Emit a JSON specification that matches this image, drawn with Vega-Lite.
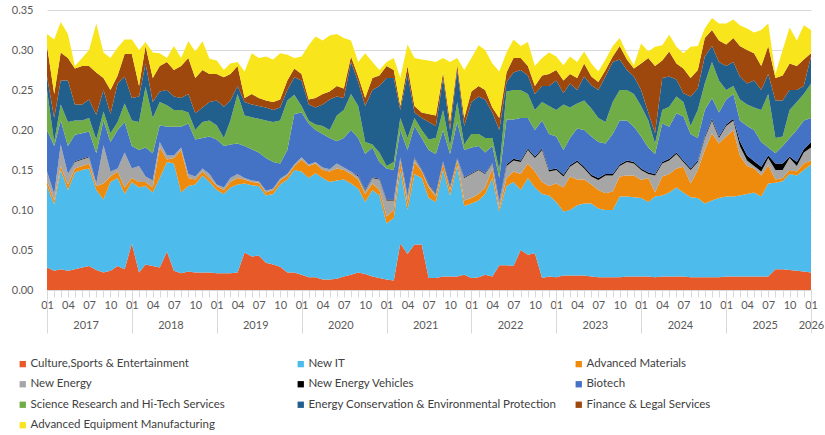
{
  "$schema": "https://vega.github.io/schema/vega-lite/v6.json",
  "width": 764,
  "height": 280,
  "autosize": "none",
  "padding": {"left": 47, "top": 10, "right": 14, "bottom": 145},
  "config": {
    "font": "Lato",
    "view": {"stroke": null},
    "axis": {"labelFont": "Lato", "labelColor": "#595959", "labelFontSize": 11, "title": null}
  },
  "datasets": {
    "series": [
      {"key": "cse", "series": "Culture,Sports & Entertainment", "rank": 1},
      {"key": "nit", "series": "New IT", "rank": 2},
      {"key": "am", "series": "Advanced Materials", "rank": 3},
      {"key": "ne", "series": "New Energy", "rank": 4},
      {"key": "nev", "series": "New Energy Vehicles", "rank": 5},
      {"key": "bio", "series": "Biotech", "rank": 6},
      {"key": "sci", "series": "Science Research and Hi-Tech Services", "rank": 7},
      {"key": "ece", "series": "Energy Conservation & Environmental Protection", "rank": 8},
      {"key": "fin", "series": "Finance & Legal Services", "rank": 9},
      {"key": "aem", "series": "Advanced Equipment Manufacturing", "rank": 10}
    ],
    "shares": [
      {"date": "2017-01", "cse": 0.028, "nit": 0.102, "am": 0.006, "ne": 0.012, "nev": 0, "bio": 0.052, "sci": 0.050, "ece": 0.017, "fin": 0.038, "aem": 0.015},
      {"date": "2017-02", "cse": 0.024, "nit": 0.083, "am": 0.005, "ne": 0.008, "nev": 0, "bio": 0.060, "sci": 0.005, "ece": 0.030, "fin": 0.030, "aem": 0.068},
      {"date": "2017-03", "cse": 0.026, "nit": 0.124, "am": 0.005, "ne": 0.027, "nev": 0, "bio": 0.030, "sci": 0.020, "ece": 0.030, "fin": 0.035, "aem": 0.038},
      {"date": "2017-04", "cse": 0.024, "nit": 0.101, "am": 0.007, "ne": 0.013, "nev": 0, "bio": 0.035, "sci": 0.030, "ece": 0.052, "fin": 0.028, "aem": 0.030},
      {"date": "2017-05", "cse": 0.026, "nit": 0.121, "am": 0.005, "ne": 0.008, "nev": 0.001, "bio": 0.033, "sci": 0.018, "ece": 0.020, "fin": 0.045, "aem": 0.003},
      {"date": "2017-06", "cse": 0.028, "nit": 0.122, "am": 0.005, "ne": 0.008, "nev": 0.001, "bio": 0.032, "sci": 0.016, "ece": 0.020, "fin": 0.048, "aem": 0.010},
      {"date": "2017-07", "cse": 0.030, "nit": 0.122, "am": 0.006, "ne": 0.008, "nev": 0.001, "bio": 0.031, "sci": 0.017, "ece": 0.023, "fin": 0.042, "aem": 0.020},
      {"date": "2017-08", "cse": 0.025, "nit": 0.100, "am": 0.005, "ne": 0.003, "nev": 0, "bio": 0.038, "sci": 0.017, "ece": 0.031, "fin": 0.053, "aem": 0.061},
      {"date": "2017-09", "cse": 0.022, "nit": 0.091, "am": 0.020, "ne": 0.048, "nev": 0, "bio": 0.031, "sci": 0.011, "ece": 0.027, "fin": 0.015, "aem": 0.032},
      {"date": "2017-10", "cse": 0.024, "nit": 0.111, "am": 0.007, "ne": 0.006, "nev": 0, "bio": 0.037, "sci": 0.011, "ece": 0.024, "fin": 0.030, "aem": 0.040},
      {"date": "2017-11", "cse": 0.030, "nit": 0.110, "am": 0.008, "ne": 0.004, "nev": 0, "bio": 0.048, "sci": 0.010, "ece": 0.048, "fin": 0.010, "aem": 0.035},
      {"date": "2017-12", "cse": 0.026, "nit": 0.094, "am": 0.008, "ne": 0.044, "nev": 0, "bio": 0.038, "sci": 0.023, "ece": 0.034, "fin": 0.028, "aem": 0.018},
      {"date": "2018-01", "cse": 0.058, "nit": 0.077, "am": 0.005, "ne": 0.012, "nev": 0, "bio": 0.028, "sci": 0.032, "ece": 0.028, "fin": 0.055, "aem": 0.018},
      {"date": "2018-02", "cse": 0.022, "nit": 0.106, "am": 0.007, "ne": 0.020, "nev": 0, "bio": 0.020, "sci": 0.035, "ece": 0.032, "fin": 0.013, "aem": 0.045},
      {"date": "2018-03", "cse": 0.032, "nit": 0.098, "am": 0.005, "ne": 0.007, "nev": 0, "bio": 0.036, "sci": 0.076, "ece": 0.029, "fin": 0.022, "aem": 0.005},
      {"date": "2018-04", "cse": 0.030, "nit": 0.092, "am": 0.006, "ne": 0.009, "nev": 0, "bio": 0.034, "sci": 0.044, "ece": 0.020, "fin": 0.030, "aem": 0.032},
      {"date": "2018-05", "cse": 0.028, "nit": 0.112, "am": 0.038, "ne": 0.007, "nev": 0, "bio": 0.021, "sci": 0.029, "ece": 0.013, "fin": 0.032, "aem": 0.016},
      {"date": "2018-06", "cse": 0.048, "nit": 0.112, "am": 0.003, "ne": 0.005, "nev": 0, "bio": 0.036, "sci": 0.027, "ece": 0.019, "fin": 0.035, "aem": 0.005},
      {"date": "2018-07", "cse": 0.024, "nit": 0.134, "am": 0.007, "ne": 0.003, "nev": 0, "bio": 0.036, "sci": 0.021, "ece": 0.017, "fin": 0.033, "aem": 0.030},
      {"date": "2018-08", "cse": 0.021, "nit": 0.101, "am": 0.053, "ne": 0.003, "nev": 0, "bio": 0.026, "sci": 0.021, "ece": 0.015, "fin": 0.040, "aem": 0.010},
      {"date": "2018-09", "cse": 0.023, "nit": 0.107, "am": 0.010, "ne": 0.005, "nev": 0, "bio": 0.063, "sci": 0.014, "ece": 0.023, "fin": 0.045, "aem": 0.021},
      {"date": "2018-10", "cse": 0.022, "nit": 0.110, "am": 0.006, "ne": 0.004, "nev": 0, "bio": 0.046, "sci": 0.012, "ece": 0.021, "fin": 0.044, "aem": 0.033},
      {"date": "2018-11", "cse": 0.022, "nit": 0.121, "am": 0.005, "ne": 0.004, "nev": 0, "bio": 0.038, "sci": 0.020, "ece": 0.018, "fin": 0.047, "aem": 0.036},
      {"date": "2018-12", "cse": 0.022, "nit": 0.113, "am": 0.005, "ne": 0.005, "nev": 0, "bio": 0.047, "sci": 0.020, "ece": 0.023, "fin": 0.035, "aem": 0.019},
      {"date": "2019-01", "cse": 0.021, "nit": 0.104, "am": 0.005, "ne": 0.002, "nev": 0, "bio": 0.056, "sci": 0.018, "ece": 0.031, "fin": 0.033, "aem": 0.017},
      {"date": "2019-02", "cse": 0.021, "nit": 0.099, "am": 0.005, "ne": 0.003, "nev": 0, "bio": 0.052, "sci": 0.010, "ece": 0.039, "fin": 0.037, "aem": 0.009},
      {"date": "2019-03", "cse": 0.021, "nit": 0.107, "am": 0.007, "ne": 0.005, "nev": 0, "bio": 0.042, "sci": 0.030, "ece": 0.025, "fin": 0.033, "aem": 0.013},
      {"date": "2019-04", "cse": 0.022, "nit": 0.110, "am": 0.008, "ne": 0.005, "nev": 0, "bio": 0.038, "sci": 0.062, "ece": 0.010, "fin": 0.025, "aem": 0.005},
      {"date": "2019-05", "cse": 0.047, "nit": 0.086, "am": 0.005, "ne": 0.002, "nev": 0, "bio": 0.040, "sci": 0.038, "ece": 0.017, "fin": 0.005, "aem": 0.033},
      {"date": "2019-06", "cse": 0.042, "nit": 0.089, "am": 0.004, "ne": 0.002, "nev": 0, "bio": 0.039, "sci": 0.040, "ece": 0.016, "fin": 0.013, "aem": 0.051},
      {"date": "2019-07", "cse": 0.043, "nit": 0.087, "am": 0.004, "ne": 0.002, "nev": 0, "bio": 0.036, "sci": 0.042, "ece": 0.016, "fin": 0.010, "aem": 0.050},
      {"date": "2019-08", "cse": 0.034, "nit": 0.084, "am": 0.004, "ne": 0.002, "nev": 0, "bio": 0.041, "sci": 0.047, "ece": 0.016, "fin": 0.009, "aem": 0.055},
      {"date": "2019-09", "cse": 0.032, "nit": 0.088, "am": 0.005, "ne": 0.002, "nev": 0, "bio": 0.033, "sci": 0.050, "ece": 0.015, "fin": 0.010, "aem": 0.053},
      {"date": "2019-10", "cse": 0.029, "nit": 0.103, "am": 0.005, "ne": 0.002, "nev": 0, "bio": 0.019, "sci": 0.054, "ece": 0.016, "fin": 0.010, "aem": 0.058},
      {"date": "2019-11", "cse": 0.022, "nit": 0.116, "am": 0.005, "ne": 0.002, "nev": 0, "bio": 0.030, "sci": 0.062, "ece": 0.013, "fin": 0.012, "aem": 0.032},
      {"date": "2019-12", "cse": 0.022, "nit": 0.128, "am": 0.005, "ne": 0.002, "nev": 0, "bio": 0.063, "sci": 0.024, "ece": 0.022, "fin": 0.011, "aem": 0.013},
      {"date": "2020-01", "cse": 0.019, "nit": 0.129, "am": 0.015, "ne": 0.003, "nev": 0, "bio": 0.056, "sci": 0.008, "ece": 0.032, "fin": 0.008, "aem": 0.022},
      {"date": "2020-02", "cse": 0.016, "nit": 0.124, "am": 0.015, "ne": 0.002, "nev": 0, "bio": 0.051, "sci": 0.004, "ece": 0.020, "fin": 0.006, "aem": 0.068},
      {"date": "2020-03", "cse": 0.016, "nit": 0.130, "am": 0.012, "ne": 0.002, "nev": 0, "bio": 0.040, "sci": 0.007, "ece": 0.021, "fin": 0.012, "aem": 0.077},
      {"date": "2020-04", "cse": 0.013, "nit": 0.127, "am": 0.010, "ne": 0.003, "nev": 0, "bio": 0.042, "sci": 0.010, "ece": 0.027, "fin": 0.013, "aem": 0.067},
      {"date": "2020-05", "cse": 0.013, "nit": 0.122, "am": 0.013, "ne": 0.003, "nev": 0, "bio": 0.039, "sci": 0.010, "ece": 0.038, "fin": 0.010, "aem": 0.070},
      {"date": "2020-06", "cse": 0.014, "nit": 0.123, "am": 0.015, "ne": 0.006, "nev": 0, "bio": 0.028, "sci": 0.032, "ece": 0.024, "fin": 0.013, "aem": 0.065},
      {"date": "2020-07", "cse": 0.017, "nit": 0.121, "am": 0.012, "ne": 0.003, "nev": 0, "bio": 0.037, "sci": 0.035, "ece": 0.015, "fin": 0.012, "aem": 0.063},
      {"date": "2020-08", "cse": 0.019, "nit": 0.114, "am": 0.012, "ne": 0.003, "nev": 0, "bio": 0.052, "sci": 0.045, "ece": 0.040, "fin": 0.007, "aem": 0.020},
      {"date": "2020-09", "cse": 0.022, "nit": 0.105, "am": 0.011, "ne": 0.004, "nev": 0.001, "bio": 0.047, "sci": 0.040, "ece": 0.030, "fin": 0.007, "aem": 0.018},
      {"date": "2020-10", "cse": 0.020, "nit": 0.090, "am": 0.010, "ne": 0.004, "nev": 0.001, "bio": 0.045, "sci": 0.015, "ece": 0.045, "fin": 0.010, "aem": 0.056},
      {"date": "2020-11", "cse": 0.017, "nit": 0.108, "am": 0.008, "ne": 0.007, "nev": 0.001, "bio": 0.037, "sci": 0.004, "ece": 0.068, "fin": 0.015, "aem": 0.020},
      {"date": "2020-12", "cse": 0.015, "nit": 0.103, "am": 0.007, "ne": 0.013, "nev": 0.001, "bio": 0.021, "sci": 0.012, "ece": 0.083, "fin": 0.013, "aem": 0.007},
      {"date": "2021-01", "cse": 0.013, "nit": 0.070, "am": 0.009, "ne": 0.020, "nev": 0.001, "bio": 0.039, "sci": 0.003, "ece": 0.110, "fin": 0.015, "aem": 0.005},
      {"date": "2021-02", "cse": 0.012, "nit": 0.078, "am": 0.010, "ne": 0.012, "nev": 0.001, "bio": 0.037, "sci": 0.010, "ece": 0.105, "fin": 0.010, "aem": 0.015},
      {"date": "2021-03", "cse": 0.058, "nit": 0.092, "am": 0.012, "ne": 0.003, "nev": 0.001, "bio": 0.034, "sci": 0.015, "ece": 0.010, "fin": 0.005, "aem": 0.035},
      {"date": "2021-04", "cse": 0.045, "nit": 0.055, "am": 0.008, "ne": 0.010, "nev": 0.001, "bio": 0.056, "sci": 0.015, "ece": 0.080, "fin": 0.010, "aem": 0.027},
      {"date": "2021-05", "cse": 0.057, "nit": 0.088, "am": 0.015, "ne": 0.005, "nev": 0.001, "bio": 0.039, "sci": 0.010, "ece": 0.007, "fin": 0.008, "aem": 0.060},
      {"date": "2021-06", "cse": 0.057, "nit": 0.083, "am": 0.008, "ne": 0.002, "nev": 0.001, "bio": 0.039, "sci": 0.010, "ece": 0.015, "fin": 0.007, "aem": 0.066},
      {"date": "2021-07", "cse": 0.015, "nit": 0.100, "am": 0.013, "ne": 0.004, "nev": 0.001, "bio": 0.042, "sci": 0.013, "ece": 0.022, "fin": 0.010, "aem": 0.067},
      {"date": "2021-08", "cse": 0.015, "nit": 0.095, "am": 0.007, "ne": 0.003, "nev": 0.001, "bio": 0.049, "sci": 0.020, "ece": 0.015, "fin": 0.013, "aem": 0.067},
      {"date": "2021-09", "cse": 0.017, "nit": 0.133, "am": 0.008, "ne": 0.002, "nev": 0.001, "bio": 0.039, "sci": 0.025, "ece": 0.040, "fin": 0.007, "aem": 0.018},
      {"date": "2021-10", "cse": 0.017, "nit": 0.101, "am": 0.007, "ne": 0.003, "nev": 0.001, "bio": 0.041, "sci": 0.010, "ece": 0.020, "fin": 0.010, "aem": 0.075},
      {"date": "2021-11", "cse": 0.017, "nit": 0.138, "am": 0.007, "ne": 0.002, "nev": 0.001, "bio": 0.045, "sci": 0.025, "ece": 0.040, "fin": 0.007, "aem": 0.008},
      {"date": "2021-12", "cse": 0.019, "nit": 0.086, "am": 0.007, "ne": 0.028, "nev": 0.001, "bio": 0.034, "sci": 0.007, "ece": 0.023, "fin": 0.010, "aem": 0.060},
      {"date": "2022-01", "cse": 0.015, "nit": 0.093, "am": 0.007, "ne": 0.030, "nev": 0.001, "bio": 0.032, "sci": 0.017, "ece": 0.040, "fin": 0.013, "aem": 0.042},
      {"date": "2022-02", "cse": 0.016, "nit": 0.096, "am": 0.008, "ne": 0.030, "nev": 0.001, "bio": 0.029, "sci": 0.015, "ece": 0.047, "fin": 0.013, "aem": 0.051},
      {"date": "2022-03", "cse": 0.019, "nit": 0.101, "am": 0.008, "ne": 0.017, "nev": 0.001, "bio": 0.026, "sci": 0.018, "ece": 0.048, "fin": 0.012, "aem": 0.050},
      {"date": "2022-04", "cse": 0.017, "nit": 0.123, "am": 0.012, "ne": 0.006, "nev": 0.001, "bio": 0.021, "sci": 0.010, "ece": 0.032, "fin": 0.006, "aem": 0.055},
      {"date": "2022-05", "cse": 0.031, "nit": 0.067, "am": 0.004, "ne": 0.008, "nev": 0.001, "bio": 0.029, "sci": 0.010, "ece": 0.050, "fin": 0.015, "aem": 0.058},
      {"date": "2022-06", "cse": 0.031, "nit": 0.099, "am": 0.010, "ne": 0.015, "nev": 0.002, "bio": 0.056, "sci": 0.035, "ece": 0.012, "fin": 0.012, "aem": 0.025},
      {"date": "2022-07", "cse": 0.030, "nit": 0.105, "am": 0.013, "ne": 0.014, "nev": 0.002, "bio": 0.049, "sci": 0.037, "ece": 0.022, "fin": 0.018, "aem": 0.023},
      {"date": "2022-08", "cse": 0.050, "nit": 0.075, "am": 0.020, "ne": 0.015, "nev": 0.002, "bio": 0.053, "sci": 0.035, "ece": 0.025, "fin": 0.015, "aem": 0.015},
      {"date": "2022-09", "cse": 0.044, "nit": 0.096, "am": 0.018, "ne": 0.017, "nev": 0.002, "bio": 0.038, "sci": 0.030, "ece": 0.023, "fin": 0.012, "aem": 0.030},
      {"date": "2022-10", "cse": 0.046, "nit": 0.082, "am": 0.020, "ne": 0.017, "nev": 0.002, "bio": 0.033, "sci": 0.025, "ece": 0.020, "fin": 0.010, "aem": 0.025},
      {"date": "2022-11", "cse": 0.015, "nit": 0.105, "am": 0.015, "ne": 0.040, "nev": 0.002, "bio": 0.035, "sci": 0.023, "ece": 0.020, "fin": 0.013, "aem": 0.022},
      {"date": "2022-12", "cse": 0.017, "nit": 0.101, "am": 0.012, "ne": 0.018, "nev": 0.002, "bio": 0.045, "sci": 0.035, "ece": 0.025, "fin": 0.015, "aem": 0.027},
      {"date": "2023-01", "cse": 0.016, "nit": 0.094, "am": 0.023, "ne": 0.017, "nev": 0.002, "bio": 0.040, "sci": 0.033, "ece": 0.037, "fin": 0.013, "aem": 0.017},
      {"date": "2023-02", "cse": 0.018, "nit": 0.080, "am": 0.030, "ne": 0.014, "nev": 0.002, "bio": 0.031, "sci": 0.057, "ece": 0.014, "fin": 0.016, "aem": 0.019},
      {"date": "2023-03", "cse": 0.018, "nit": 0.082, "am": 0.042, "ne": 0.012, "nev": 0.002, "bio": 0.034, "sci": 0.038, "ece": 0.030, "fin": 0.012, "aem": 0.022},
      {"date": "2023-04", "cse": 0.018, "nit": 0.088, "am": 0.032, "ne": 0.022, "nev": 0.002, "bio": 0.040, "sci": 0.031, "ece": 0.017, "fin": 0.015, "aem": 0.020},
      {"date": "2023-05", "cse": 0.018, "nit": 0.090, "am": 0.030, "ne": 0.014, "nev": 0.002, "bio": 0.046, "sci": 0.037, "ece": 0.030, "fin": 0.016, "aem": 0.015},
      {"date": "2023-06", "cse": 0.017, "nit": 0.091, "am": 0.024, "ne": 0.010, "nev": 0.002, "bio": 0.048, "sci": 0.035, "ece": 0.029, "fin": 0.011, "aem": 0.016},
      {"date": "2023-07", "cse": 0.016, "nit": 0.086, "am": 0.023, "ne": 0.0125, "nev": 0.0025, "bio": 0.045, "sci": 0.030, "ece": 0.035, "fin": 0.010, "aem": 0.013},
      {"date": "2023-08", "cse": 0.016, "nit": 0.084, "am": 0.021, "ne": 0.022, "nev": 0.002, "bio": 0.038, "sci": 0.027, "ece": 0.057, "fin": 0.008, "aem": 0.013},
      {"date": "2023-09", "cse": 0.016, "nit": 0.084, "am": 0.023, "ne": 0.020, "nev": 0.002, "bio": 0.050, "sci": 0.040, "ece": 0.050, "fin": 0.007, "aem": 0.013},
      {"date": "2023-10", "cse": 0.016, "nit": 0.101, "am": 0.025, "ne": 0.013, "nev": 0.002, "bio": 0.055, "sci": 0.038, "ece": 0.038, "fin": 0.017, "aem": 0.010},
      {"date": "2023-11", "cse": 0.017, "nit": 0.100, "am": 0.026, "ne": 0.017, "nev": 0.002, "bio": 0.050, "sci": 0.038, "ece": 0.025, "fin": 0.013, "aem": 0.008},
      {"date": "2023-12", "cse": 0.017, "nit": 0.099, "am": 0.027, "ne": 0.015, "nev": 0.002, "bio": 0.044, "sci": 0.041, "ece": 0.022, "fin": 0.010, "aem": 0.004},
      {"date": "2024-01", "cse": 0.017, "nit": 0.098, "am": 0.0225, "ne": 0.0125, "nev": 0.002, "bio": 0.040, "sci": 0.038, "ece": 0.020, "fin": 0.033, "aem": 0.025},
      {"date": "2024-02", "cse": 0.017, "nit": 0.093, "am": 0.030, "ne": 0.005, "nev": 0.002, "bio": 0.031, "sci": 0.034, "ece": 0.010, "fin": 0.068, "aem": 0.008},
      {"date": "2024-03", "cse": 0.016, "nit": 0.101, "am": 0.005, "ne": 0.021, "nev": 0.002, "bio": 0.025, "sci": 0.013, "ece": 0.013, "fin": 0.084, "aem": 0.024},
      {"date": "2024-04", "cse": 0.017, "nit": 0.101, "am": 0.024, "ne": 0.016, "nev": 0.002, "bio": 0.048, "sci": 0.017, "ece": 0.040, "fin": 0.022, "aem": 0.019},
      {"date": "2024-05", "cse": 0.017, "nit": 0.105, "am": 0.023, "ne": 0.017, "nev": 0.002, "bio": 0.040, "sci": 0.025, "ece": 0.038, "fin": 0.031, "aem": 0.021},
      {"date": "2024-06", "cse": 0.017, "nit": 0.111, "am": 0.024, "ne": 0.018, "nev": 0.002, "bio": 0.049, "sci": 0.021, "ece": 0.021, "fin": 0.020, "aem": 0.021},
      {"date": "2024-07", "cse": 0.017, "nit": 0.105, "am": 0.032, "ne": 0.006, "nev": 0.002, "bio": 0.055, "sci": 0.018, "ece": 0.011, "fin": 0.031, "aem": 0.019},
      {"date": "2024-08", "cse": 0.016, "nit": 0.100, "am": 0.017, "ne": 0.017, "nev": 0.002, "bio": 0.043, "sci": 0.010, "ece": 0.037, "fin": 0.023, "aem": 0.039},
      {"date": "2024-09", "cse": 0.016, "nit": 0.099, "am": 0.035, "ne": 0.010, "nev": 0.002, "bio": 0.028, "sci": 0.035, "ece": 0.027, "fin": 0.023, "aem": 0.030},
      {"date": "2024-10", "cse": 0.016, "nit": 0.092, "am": 0.067, "ne": 0.015, "nev": 0.002, "bio": 0.033, "sci": 0.033, "ece": 0.034, "fin": 0.023, "aem": 0.012},
      {"date": "2024-11", "cse": 0.016, "nit": 0.096, "am": 0.084, "ne": 0.016, "nev": 0.002, "bio": 0.026, "sci": 0.045, "ece": 0.020, "fin": 0.020, "aem": 0.015},
      {"date": "2024-12", "cse": 0.016, "nit": 0.099, "am": 0.068, "ne": 0.007, "nev": 0.002, "bio": 0.030, "sci": 0.040, "ece": 0.023, "fin": 0.027, "aem": 0.021},
      {"date": "2025-01", "cse": 0.017, "nit": 0.100, "am": 0.075, "ne": 0.013, "nev": 0.002, "bio": 0.031, "sci": 0.012, "ece": 0.030, "fin": 0.027, "aem": 0.026},
      {"date": "2025-02", "cse": 0.017, "nit": 0.100, "am": 0.083, "ne": 0.012, "nev": 0.002, "bio": 0.031, "sci": 0.010, "ece": 0.030, "fin": 0.030, "aem": 0.023},
      {"date": "2025-03", "cse": 0.017, "nit": 0.101, "am": 0.050, "ne": 0.012, "nev": 0.006, "bio": 0.026, "sci": 0.026, "ece": 0.029, "fin": 0.038, "aem": 0.026},
      {"date": "2025-04", "cse": 0.017, "nit": 0.103, "am": 0.035, "ne": 0.007, "nev": 0.006, "bio": 0.037, "sci": 0.027, "ece": 0.026, "fin": 0.042, "aem": 0.027},
      {"date": "2025-05", "cse": 0.017, "nit": 0.105, "am": 0.030, "ne": 0.003, "nev": 0.006, "bio": 0.039, "sci": 0.028, "ece": 0.034, "fin": 0.034, "aem": 0.026},
      {"date": "2025-06", "cse": 0.017, "nit": 0.100, "am": 0.026, "ne": 0.005, "nev": 0.006, "bio": 0.031, "sci": 0.040, "ece": 0.025, "fin": 0.030, "aem": 0.045},
      {"date": "2025-07", "cse": 0.017, "nit": 0.116, "am": 0.023, "ne": 0.009, "nev": 0.003, "bio": 0.010, "sci": 0.067, "ece": 0.025, "fin": 0.035, "aem": 0.028},
      {"date": "2025-08", "cse": 0.026, "nit": 0.108, "am": 0.004, "ne": 0.012, "nev": 0.008, "bio": 0.013, "sci": 0.019, "ece": 0.047, "fin": 0.028, "aem": 0.005},
      {"date": "2025-09", "cse": 0.026, "nit": 0.110, "am": 0.004, "ne": 0.010, "nev": 0.008, "bio": 0.022, "sci": 0.012, "ece": 0.045, "fin": 0.031, "aem": 0.032},
      {"date": "2025-10", "cse": 0.025, "nit": 0.120, "am": 0.005, "ne": 0.015, "nev": 0.002, "bio": 0.023, "sci": 0.035, "ece": 0.025, "fin": 0.033, "aem": 0.045},
      {"date": "2025-11", "cse": 0.024, "nit": 0.119, "am": 0.005, "ne": 0.007, "nev": 0.005, "bio": 0.040, "sci": 0.035, "ece": 0.015, "fin": 0.030, "aem": 0.032},
      {"date": "2025-12", "cse": 0.023, "nit": 0.127, "am": 0.008, "ne": 0.014, "nev": 0.004, "bio": 0.036, "sci": 0.033, "ece": 0.010, "fin": 0.033, "aem": 0.043},
      {"date": "2026-01", "cse": 0.022, "nit": 0.135, "am": 0.005, "ne": 0.016, "nev": 0.007, "bio": 0.030, "sci": 0.043, "ece": 0.034, "fin": 0.004, "aem": 0.029}
    ]
  },
  "data": {"name": "shares"},
  "transform": [
    {"fold": ["cse", "nit", "am", "ne", "nev", "bio", "sci", "ece", "fin", "aem"], "as": ["key", "share"]},
    {"lookup": "key", "from": {"data": {"name": "series"}, "key": "key", "fields": ["series", "rank"]}}
  ],
  "layer": [
    {
      "mark": {"type": "area", "interpolate": "linear"},
      "encoding": {
        "x": {
          "field": "date", "type": "temporal",
          "scale": {"type": "utc", "nice": false},
          "axis": {
            "orient": "bottom",
            "tickCount": {"interval": "month", "step": 1},
            "labelExpr": "utcmonth(datum.value) % 3 == 0 ? utcFormat(datum.value, '%m') : ''",
            "labelOverlap": false, "labelFlush": false, "labelBound": false,
            "grid": false, "tickSize": 7, "tickColor": "#D9D9D9", "domainColor": "#D9D9D9",
            "labelPadding": 2
          }
        },
        "y": {
          "field": "share", "type": "quantitative", "stack": "zero",
          "scale": {"domain": [0, 0.35], "nice": false},
          "axis": {
            "values": [0, 0.05, 0.1, 0.15, 0.2, 0.25, 0.3, 0.35],
            "format": ".2f", "ticks": false, "domain": false,
            "gridColor": "#D9D9D9", "labelPadding": 14, "labelFontSize": 11
          }
        },
        "color": {
          "field": "series", "type": "nominal",
          "scale": {
            "domain": ["Culture,Sports & Entertainment", "New IT", "Advanced Materials", "New Energy", "New Energy Vehicles", "Biotech", "Science Research and Hi-Tech Services", "Energy Conservation & Environmental Protection", "Finance & Legal Services", "Advanced Equipment Manufacturing"],
            "range": ["#E8592A", "#4DBBEB", "#EE8A0C", "#A6A6A6", "#000000", "#4472C4", "#70AD47", "#215F8C", "#9E480E", "#F8E51C"]
          },
          "legend": {
            "title": null, "orient": "none", "direction": "horizontal", "legendX": -30, "legendY": 348,
            "columns": 3, "gridAlign": "all", "columnPadding": 16, "rowPadding": 7.5,
            "symbolType": "square", "symbolSize": 40, "symbolStrokeWidth": 0,
            "labelFontSize": 11.5, "labelColor": "#404040", "labelOffset": 2, "labelLimit": 400
          }
        },
        "order": {"field": "rank", "type": "quantitative"}
      }
    },
    {
      "mark": {"type": "rule", "opacity": 0},
      "encoding": {
        "x": {
          "field": "date", "type": "temporal", "scale": {"type": "utc", "nice": false},
          "axis": {
            "orient": "bottom", "tickCount": {"interval": "year", "step": 1},
            "labels": false, "domain": false, "grid": false,
            "tickSize": 43, "tickColor": "#D9D9D9"
          }
        }
      }
    },
    {
      "mark": {"type": "rule", "opacity": 0},
      "encoding": {
        "x": {
          "field": "date", "type": "temporal", "scale": {"type": "utc", "nice": false},
          "axis": {
            "orient": "bottom",
            "values": [
              {"year": 2017, "month": 6, "date": 16, "utc": true},
              {"year": 2018, "month": 6, "date": 16, "utc": true},
              {"year": 2019, "month": 6, "date": 16, "utc": true},
              {"year": 2020, "month": 6, "date": 16, "utc": true},
              {"year": 2021, "month": 6, "date": 16, "utc": true},
              {"year": 2022, "month": 6, "date": 16, "utc": true},
              {"year": 2023, "month": 6, "date": 16, "utc": true},
              {"year": 2024, "month": 6, "date": 16, "utc": true},
              {"year": 2025, "month": 6, "date": 16, "utc": true},
              {"year": 2026, "month": 1, "date": 1, "utc": true}
            ],
            "labelExpr": "utcFormat(datum.value, '%Y')",
            "ticks": false, "tickSize": 0, "domain": false, "grid": false,
            "labelPadding": 29, "labelOverlap": false, "labelFlush": false, "labelBound": false
          }
        }
      }
    }
  ],
  "resolve": {"axis": {"x": "independent"}}
}
